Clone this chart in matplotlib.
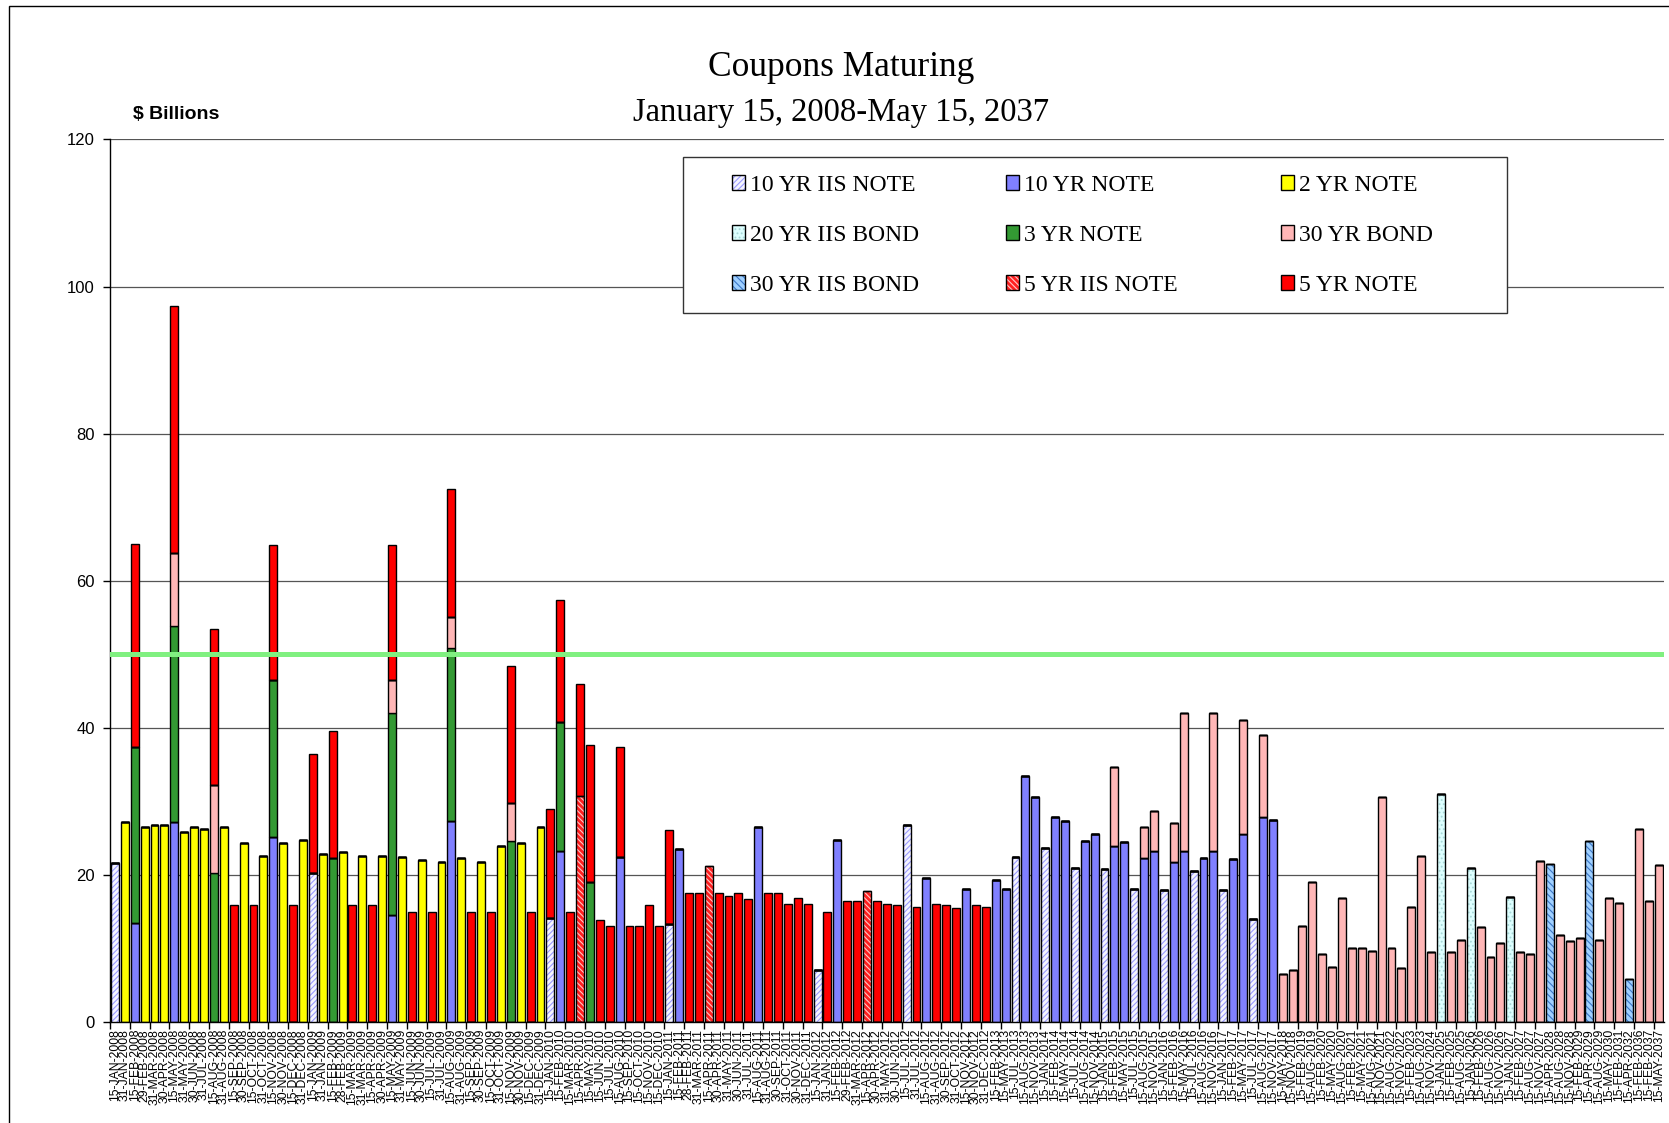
import matplotlib
matplotlib.use('Agg')
import matplotlib.pyplot as plt
from matplotlib.patches import Patch, Rectangle
from matplotlib.legend_handler import HandlerTuple
import numpy as np

# Fechas de vencimiento (categorias)
fechas = [
    '15-JAN-2008', '31-JAN-2008', '15-FEB-2008', '29-FEB-2008', '31-MAR-2008', '30-APR-2008',
    '15-MAY-2008', '31-MAY-2008', '30-JUN-2008', '31-JUL-2008', '15-AUG-2008', '31-AUG-2008',
    '15-SEP-2008', '30-SEP-2008', '15-OCT-2008', '31-OCT-2008', '15-NOV-2008', '30-NOV-2008',
    '15-DEC-2008', '31-DEC-2008', '15-JAN-2009', '31-JAN-2009', '15-FEB-2009', '28-FEB-2009',
    '15-MAR-2009', '31-MAR-2009', '15-APR-2009', '30-APR-2009', '15-MAY-2009', '31-MAY-2009',
    '15-JUN-2009', '30-JUN-2009', '15-JUL-2009', '31-JUL-2009', '15-AUG-2009', '31-AUG-2009',
    '15-SEP-2009', '30-SEP-2009', '15-OCT-2009', '31-OCT-2009', '15-NOV-2009', '30-NOV-2009',
    '15-DEC-2009', '31-DEC-2009', '15-JAN-2010', '15-FEB-2010', '15-MAR-2010', '15-APR-2010',
    '15-MAY-2010', '15-JUN-2010', '15-JUL-2010', '15-AUG-2010', '15-SEP-2010', '15-OCT-2010',
    '15-NOV-2010', '15-DEC-2010', '15-JAN-2011', '15-FEB-2011', '28-FEB-2011', '31-MAR-2011',
    '15-APR-2011', '30-APR-2011', '31-MAY-2011', '30-JUN-2011', '31-JUL-2011', '15-AUG-2011',
    '31-AUG-2011', '30-SEP-2011', '31-OCT-2011', '30-NOV-2011', '31-DEC-2011', '15-JAN-2012',
    '31-JAN-2012', '15-FEB-2012', '29-FEB-2012', '31-MAR-2012', '15-APR-2012', '30-APR-2012',
    '31-MAY-2012', '30-JUN-2012', '15-JUL-2012', '31-JUL-2012', '15-AUG-2012', '31-AUG-2012',
    '30-SEP-2012', '31-OCT-2012', '15-NOV-2012', '30-NOV-2012', '31-DEC-2012', '15-FEB-2013',
    '15-MAY-2013', '15-JUL-2013', '15-AUG-2013', '15-NOV-2013', '15-JAN-2014', '15-FEB-2014',
    '15-MAY-2014', '15-JUL-2014', '15-AUG-2014', '15-NOV-2014', '15-JAN-2015', '15-FEB-2015',
    '15-MAY-2015', '15-JUL-2015', '15-AUG-2015', '15-NOV-2015', '15-JAN-2016', '15-FEB-2016',
    '15-MAY-2016', '15-JUL-2016', '15-AUG-2016', '15-NOV-2016', '15-JAN-2017', '15-FEB-2017',
    '15-MAY-2017', '15-JUL-2017', '15-AUG-2017', '15-NOV-2017', '15-MAY-2018', '15-NOV-2018',
    '15-FEB-2019', '15-AUG-2019', '15-FEB-2020', '15-MAY-2020', '15-AUG-2020', '15-FEB-2021',
    '15-MAY-2021', '15-AUG-2021', '15-NOV-2021', '15-AUG-2022', '15-NOV-2022', '15-FEB-2023',
    '15-AUG-2023', '15-NOV-2024', '15-JAN-2025', '15-FEB-2025', '15-AUG-2025', '15-JAN-2026',
    '15-FEB-2026', '15-AUG-2026', '15-NOV-2026', '15-JAN-2027', '15-FEB-2027', '15-AUG-2027',
    '15-NOV-2027', '15-APR-2028', '15-AUG-2028', '15-NOV-2028', '15-FEB-2029', '15-APR-2029',
    '15-AUG-2029', '15-MAY-2030', '15-FEB-2031', '15-APR-2032', '15-FEB-2036', '15-FEB-2037',
    '15-MAY-2037',
]

# Montos por serie ($ miles de millones), por fecha
iis_10 = {'15-JAN-2008': 21.6, '15-JAN-2009': 20.2, '15-JAN-2010': 14.1, '15-JAN-2011': 13.3,
          '15-JAN-2012': 7.1, '15-JUL-2012': 26.8, '15-JUL-2013': 22.5, '15-JAN-2014': 23.6,
          '15-JUL-2014': 21.0, '15-JAN-2015': 20.8, '15-JUL-2015': 18.1, '15-JAN-2016': 17.9,
          '15-JUL-2016': 20.5, '15-JAN-2017': 17.9, '15-JUL-2017': 14.0}

nota_10 = {'15-FEB-2008': 13.5, '15-MAY-2008': 27.2, '15-NOV-2008': 25.1, '15-MAY-2009': 14.6,
           '15-AUG-2009': 27.3, '15-FEB-2010': 23.3, '15-AUG-2010': 22.4, '15-FEB-2011': 23.5,
           '15-AUG-2011': 26.5, '15-FEB-2012': 24.7, '15-AUG-2012': 19.6, '15-NOV-2012': 18.1,
           '15-FEB-2013': 19.3, '15-MAY-2013': 18.1, '15-AUG-2013': 33.5, '15-NOV-2013': 30.6,
           '15-FEB-2014': 27.9, '15-MAY-2014': 27.3, '15-AUG-2014': 24.6, '15-NOV-2014': 25.5,
           '15-FEB-2015': 24.0, '15-MAY-2015': 24.5, '15-AUG-2015': 22.3, '15-NOV-2015': 23.2,
           '15-FEB-2016': 21.7, '15-MAY-2016': 23.2, '15-AUG-2016': 22.3, '15-NOV-2016': 23.2,
           '15-FEB-2017': 22.2, '15-MAY-2017': 25.5, '15-AUG-2017': 27.9, '15-NOV-2017': 27.5}

nota_2 = {'31-JAN-2008': 27.2, '29-FEB-2008': 26.5, '31-MAR-2008': 26.8, '30-APR-2008': 26.8,
          '31-MAY-2008': 25.9, '30-JUN-2008': 26.5, '31-JUL-2008': 26.3, '31-AUG-2008': 26.5,
          '30-SEP-2008': 24.4, '31-OCT-2008': 22.6, '30-NOV-2008': 24.3, '31-DEC-2008': 24.7,
          '31-JAN-2009': 22.9, '28-FEB-2009': 23.1, '31-MAR-2009': 22.6, '30-APR-2009': 22.6,
          '31-MAY-2009': 22.4, '30-JUN-2009': 22.0, '31-JUL-2009': 21.8, '31-AUG-2009': 22.3,
          '30-SEP-2009': 21.8, '31-OCT-2009': 23.9, '30-NOV-2009': 24.4, '31-DEC-2009': 26.5}

iis_20 = {'15-JAN-2025': 31.0, '15-JAN-2026': 21.0, '15-JAN-2027': 17.0}

nota_3 = {'15-FEB-2008': 23.9, '15-MAY-2008': 26.7, '15-AUG-2008': 20.2, '15-NOV-2008': 21.4,
          '15-FEB-2009': 22.3, '15-MAY-2009': 27.4, '15-AUG-2009': 23.5, '15-NOV-2009': 24.6,
          '15-FEB-2010': 17.5, '15-MAY-2010': 19.0}

bono_30 = {'15-MAY-2008': 9.9, '15-AUG-2008': 12.0, '15-MAY-2009': 4.5, '15-AUG-2009': 4.3,
           '15-NOV-2009': 5.2, '15-FEB-2015': 10.7, '15-AUG-2015': 4.2, '15-NOV-2015': 5.5,
           '15-FEB-2016': 5.4, '15-MAY-2016': 18.8, '15-NOV-2016': 18.8, '15-MAY-2017': 15.5,
           '15-AUG-2017': 11.1, '15-MAY-2018': 6.6, '15-NOV-2018': 7.1, '15-FEB-2019': 13.0,
           '15-AUG-2019': 19.0, '15-FEB-2020': 9.3, '15-MAY-2020': 7.5, '15-AUG-2020': 16.9,
           '15-FEB-2021': 10.0, '15-MAY-2021': 10.0, '15-AUG-2021': 9.6, '15-NOV-2021': 30.6,
           '15-AUG-2022': 10.1, '15-NOV-2022': 7.3, '15-FEB-2023': 15.6, '15-AUG-2023': 22.6,
           '15-NOV-2024': 9.5, '15-FEB-2025': 9.5, '15-AUG-2025': 11.2, '15-FEB-2026': 12.9,
           '15-AUG-2026': 8.8, '15-NOV-2026': 10.8, '15-FEB-2027': 9.5, '15-AUG-2027': 9.2,
           '15-NOV-2027': 21.9, '15-AUG-2028': 11.8, '15-NOV-2028': 11.0, '15-FEB-2029': 11.4,
           '15-AUG-2029': 11.2, '15-MAY-2030': 16.9, '15-FEB-2031': 16.2, '15-FEB-2036': 26.2,
           '15-FEB-2037': 16.4, '15-MAY-2037': 21.3}

iis_30 = {'15-APR-2028': 21.5, '15-APR-2029': 24.6, '15-APR-2032': 5.9}

iis_5 = {'15-APR-2010': 30.8, '15-APR-2011': 21.2, '15-APR-2012': 17.8}

nota_5 = {'15-FEB-2008': 27.6, '15-MAY-2008': 33.5, '15-AUG-2008': 21.3, '15-SEP-2008': 15.9,
          '15-OCT-2008': 15.9, '15-NOV-2008': 18.3, '15-DEC-2008': 15.9, '15-JAN-2009': 16.2,
          '15-FEB-2009': 17.3, '15-MAR-2009': 15.9, '15-APR-2009': 15.9, '15-MAY-2009': 18.3,
          '15-JUN-2009': 14.9, '15-JUL-2009': 14.9, '15-AUG-2009': 17.4, '15-SEP-2009': 14.9,
          '15-OCT-2009': 14.9, '15-NOV-2009': 18.6, '15-DEC-2009': 14.9, '15-JAN-2010': 14.9,
          '15-FEB-2010': 16.6, '15-MAR-2010': 14.9, '15-APR-2010': 15.1, '15-MAY-2010': 18.7,
          '15-JUN-2010': 13.9, '15-JUL-2010': 13.0, '15-AUG-2010': 15.0, '15-SEP-2010': 13.0,
          '15-OCT-2010': 13.0, '15-NOV-2010': 15.9, '15-DEC-2010': 13.0, '15-JAN-2011': 12.8,
          '28-FEB-2011': 17.6, '31-MAR-2011': 17.6, '30-APR-2011': 17.6, '31-MAY-2011': 17.1,
          '30-JUN-2011': 17.6, '31-JUL-2011': 16.7, '31-AUG-2011': 17.6, '30-SEP-2011': 17.6,
          '31-OCT-2011': 16.1, '30-NOV-2011': 16.9, '31-DEC-2011': 16.1, '31-JAN-2012': 14.9,
          '29-FEB-2012': 16.5, '31-MAR-2012': 16.4, '30-APR-2012': 16.4, '31-MAY-2012': 16.1,
          '30-JUN-2012': 15.9, '31-JUL-2012': 15.7, '31-AUG-2012': 16.1, '30-SEP-2012': 15.9,
          '31-OCT-2012': 15.5, '30-NOV-2012': 15.9, '31-DEC-2012': 15.6}

# (nombre, datos, color de relleno, trama, color de trama)
series = [
    ('10 YR IIS NOTE', iis_10, '#F4F4FF', '//////', '#9A9AFF'),
    ('10 YR NOTE', nota_10, '#8080FF', None, None),
    ('2 YR NOTE', nota_2, '#FFFF00', None, None),
    ('20 YR IIS BOND', iis_20, '#DDFFFF', '....', '#A8D8D8'),
    ('3 YR NOTE', nota_3, '#339933', None, None),
    ('30 YR BOND', bono_30, '#FFB6B6', None, None),
    ('30 YR IIS BOND', iis_30, '#A0D0FF', '\\\\\\\\\\', '#3C78C8'),
    ('5 YR IIS NOTE', iis_5, '#FF2020', '\\\\\\\\\\\\', '#FFC8C8'),
    ('5 YR NOTE', nota_5, '#FF0000', None, None),
]

plt.rcParams['hatch.linewidth'] = 0.8

fig = plt.figure(figsize=(16.69, 11.23), dpi=100)
ax = fig.add_axes([0.0659, 0.0899, 0.9309, 0.7859])

x = np.arange(len(fechas))
base = np.zeros(len(fechas))
ancho = 0.8
handles = []
for nombre, datos, color, trama, ctrama in series:
    y = np.array([datos.get(f, 0.0) for f in fechas])
    if trama:
        ax.bar(x, y, ancho, bottom=base, color=color, hatch=trama,
               edgecolor=ctrama, linewidth=0, zorder=3)
        ax.bar(x, y, ancho, bottom=base, fill=False, edgecolor='black',
               linewidth=1, zorder=4)
        h = (Patch(facecolor=color, hatch=trama, edgecolor=ctrama, linewidth=0),
             Patch(fill=False, edgecolor='black', linewidth=1))
    else:
        ax.bar(x, y, ancho, bottom=base, color=color, edgecolor='black',
               linewidth=1, zorder=3)
        h = Patch(facecolor=color, edgecolor='black', linewidth=1)
    handles.append((h, nombre))
    base = base + y

# Linea de referencia en 50
ax.axhline(50, color='#80F080', linewidth=3.6, zorder=5)

ax.set_xlim(-0.5, len(fechas) - 0.5)
ax.set_ylim(0, 120)
ax.set_yticks(range(0, 121, 20))
ax.yaxis.grid(True, color='#555555', linewidth=0.9, zorder=0)
ax.set_axisbelow(True)
for s in ['top', 'right']:
    ax.spines[s].set_visible(False)
ax.spines['left'].set_linewidth(1)
ax.spines['bottom'].set_linewidth(1)
ax.tick_params(axis='y', labelsize=12, length=5, width=1, pad=6)
for t in ax.get_yticklabels():
    t.set_fontfamily('Liberation Sans')

ax.set_xticks(x)
ax.set_xticklabels(fechas, rotation=90, fontsize=8.8, fontfamily='Liberation Sans')
ax.tick_params(axis='x', length=0, pad=5)
ax.set_xticks(np.arange(-0.5, len(fechas), 2), minor=True)
ax.tick_params(axis='x', which='minor', length=5, width=1)

# Titulos
fig.text(0.504, 0.940, 'Coupons Maturing', ha='center', va='center',
         fontsize=25.5, family='Liberation Serif')
fig.text(0.504, 0.900, 'January 15, 2008-May 15, 2037', ha='center', va='center',
         fontsize=23.5, family='Liberation Serif')
fig.text(0.0797, 0.898, '$ Billions', ha='left', va='center', fontsize=14,
         fontweight='bold', family='Liberation Sans')

# Leyenda: marco y tres columnas
W, H = 1669.0, 1123.0
marco = Rectangle((683 / W, 1 - 313 / H), (1507 - 683) / W, (313 - 157) / H,
                  transform=fig.transFigure, facecolor='white', edgecolor='#333333',
                  linewidth=1, zorder=4)
fig.patches.append(marco)
cols_x = [720 / W, 994 / W, 1269 / W]
for c in range(3):
    hs = [handles[c + 3 * r][0] for r in range(3)]
    ls = [handles[c + 3 * r][1] for r in range(3)]
    leg = fig.legend(hs, ls, loc='upper left', bbox_to_anchor=(cols_x[c], 1 - 163 / H),
                     frameon=False, borderpad=0, labelspacing=1.23, handlelength=0.55,
                     handleheight=0.55, handletextpad=0.22,
                     prop={'family': 'Liberation Serif', 'size': 17},
                     handler_map={tuple: HandlerTuple(ndivide=1, pad=0)})
    leg.set_zorder(6)

# Marco exterior del grafico
fig.patches.append(Rectangle((8.5 / W, -0.1), 2, 1.1 - 5.5 / H, transform=fig.transFigure,
                             fill=False, edgecolor='black', linewidth=1, zorder=1))

fig.savefig('out.png', dpi=100)
